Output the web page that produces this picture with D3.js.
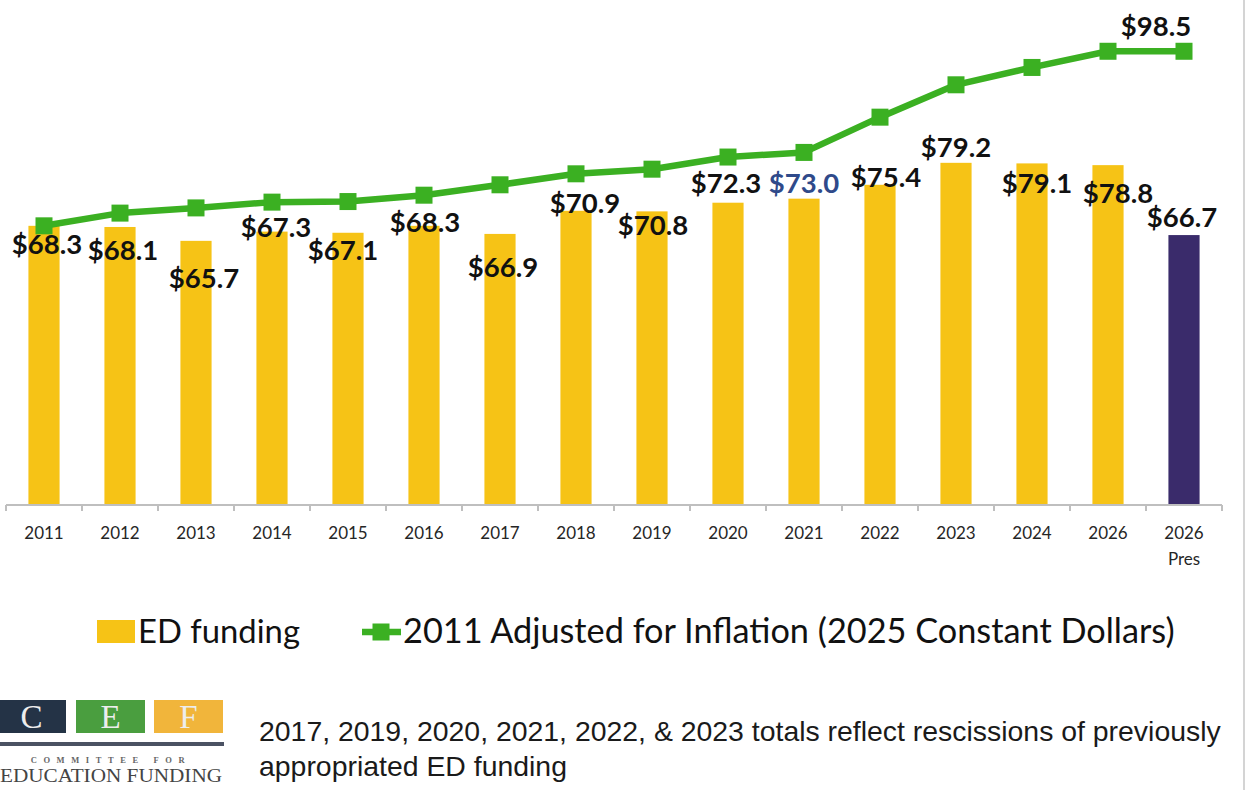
<!DOCTYPE html>
<html>
<head>
<meta charset="utf-8">
<script src="https://cdn.jsdelivr.net/npm/d3@7"></script>
<style>
  html, body { margin: 0; padding: 0; background: #ffffff; }
  svg { display: block; }
</style>
</head>
<body>
<svg id="chart" width="1248" height="790"></svg>
<script>
// ---------------- DATA ----------------
const categories = ["2011","2012","2013","2014","2015","2016","2017","2018","2019","2020","2021","2022","2023","2024","2026","2026 Pres"];
const edFunding = [68.3, 68.1, 65.7, 67.3, 67.1, 68.3, 66.9, 70.9, 70.8, 72.3, 73.0, 75.4, 79.2, 79.1, 78.8, 66.7];
const inflationAdjusted = [68.3, 70.5, 71.4, 72.4, 72.5, 73.6, 75.4, 77.3, 78.1, 80.2, 81.0, 87.1, 92.7, 95.7, 98.5, 98.5];
const seriesNames = ["ED funding", "2011 Adjusted for Inflation (2025 Constant Dollars)"];
const footnoteLines = [
  "2017, 2019, 2020, 2021, 2022, & 2023 totals reflect rescissions of previously",
  "appropriated ED funding"
];
const lineLabelText = "$98.5";

// ---------------- LAYOUT / STYLE ----------------
const W = 1248, H = 790;
const COLORS = { bar: "#F6C316", barPres: "#3A2B6B", line: "#3BB022", axis: "#BFBFBF", text: "#111111", blueLabel: "#2F4A8A" };
// label nudges relative to bar top-centre (px): [dx, dy to baseline]
const labelNudge = [[3,28],[3,33],[8,47],[4,5],[-5,27],[1,6],[3,43],[9,2],[1,24],[-2,-10],[0,-6],[6,2],[0,-6],[5,30],[10,38],[-2,-8]];

const svg = d3.select("#chart");

const x = d3.scaleBand().domain(d3.range(categories.length)).range([6, 1222]).paddingInner(0).paddingOuter(0);
const y = d3.scaleLinear().domain([20, 100]).range([505, 42.6]);
const barW = x.bandwidth() * 0.41;

// right border line
svg.append("line").attr("x1", 1244).attr("x2", 1244).attr("y1", 0).attr("y2", H)
  .attr("stroke", "#D4D4D4").attr("stroke-width", 2);

// bars
svg.append("g").selectAll("rect").data(edFunding).join("rect")
  .attr("x", (d, i) => x(i) + x.bandwidth() / 2 - barW / 2)
  .attr("width", barW)
  .attr("y", d => y(d))
  .attr("height", d => y(20) - y(d))
  .attr("fill", (d, i) => i === categories.length - 1 ? COLORS.barPres : COLORS.bar);

// x axis: labels via d3.axisBottom, ticks at band boundaries
const axisG = svg.append("g").attr("transform", `translate(0,${y(20)})`);
axisG.call(d3.axisBottom(x).tickSize(0).tickPadding(0).tickFormat(() => ""));
axisG.select(".domain").remove();
axisG.selectAll(".tick text").remove();
axisG.selectAll(".tick").each(function(d) {
  const parts = categories[d].split(" ");
  const t = d3.select(this).append("text")
    .attr("text-anchor", "middle")
    .attr("font-family", "Lato, 'Open Sans', sans-serif")
    .attr("font-size", 17)
    .attr("fill", "#262626");
  parts.forEach((p, k) => t.append("tspan").attr("x", 0).attr("y", 34 + k * 26).text(p));
});
axisG.append("line").attr("x1", x.range()[0]).attr("x2", x.range()[1]).attr("y1", 0).attr("y2", 0)
  .attr("stroke", COLORS.axis).attr("stroke-width", 2);
const boundaries = d3.range(categories.length + 1).map(i => x.range()[0] + i * x.step());
axisG.selectAll("line.tk").data(boundaries).join("line").attr("class", "tk")
  .attr("x1", d => d).attr("x2", d => d).attr("y1", 0).attr("y2", 6)
  .attr("stroke", COLORS.axis).attr("stroke-width", 2);

// green line
const lineGen = d3.line().x((d, i) => x(i) + x.bandwidth() / 2).y(d => y(d));
svg.append("path").datum(inflationAdjusted).attr("d", lineGen)
  .attr("fill", "none").attr("stroke", COLORS.line).attr("stroke-width", 6.5).attr("stroke-linejoin", "round");
const mk = 17;
svg.append("g").selectAll("rect").data(inflationAdjusted).join("rect")
  .attr("x", (d, i) => x(i) + x.bandwidth() / 2 - mk / 2)
  .attr("y", d => y(d) - mk / 2)
  .attr("width", mk).attr("height", mk)
  .attr("fill", COLORS.line);

// bar labels
svg.append("g").selectAll("text").data(edFunding).join("text")
  .attr("x", (d, i) => x(i) + x.bandwidth() / 2 + labelNudge[i][0])
  .attr("y", (d, i) => y(d) + labelNudge[i][1])
  .attr("text-anchor", "middle")
  .attr("font-family", "Lato, 'Open Sans', sans-serif")
  .attr("font-weight", 700)
  .attr("font-size", 27.5)
  .attr("fill", (d, i) => i === 10 ? COLORS.blueLabel : COLORS.text)
  .text(d => "$" + d.toFixed(1));

// line label (last point)
const lastI = inflationAdjusted.length - 1;
svg.append("text")
  .attr("x", x(lastI) + x.bandwidth() / 2 - 28)
  .attr("y", y(inflationAdjusted[lastI]) - 15)
  .attr("text-anchor", "middle")
  .attr("font-family", "Lato, 'Open Sans', sans-serif")
  .attr("font-weight", 700)
  .attr("font-size", 27.5)
  .attr("fill", COLORS.text)
  .text(lineLabelText);

// helper: fit text to width
function fit(sel, target) {
  const w = sel.node().getComputedTextLength();
  const fs = parseFloat(sel.attr("font-size"));
  sel.attr("font-size", fs * target / w);
}

// legend
const lg = svg.append("g");
lg.append("rect").attr("x", 97).attr("y", 620).attr("width", 38).attr("height", 23).attr("fill", COLORS.bar);
const t1 = lg.append("text").attr("x", 138).attr("y", 643)
  .attr("font-family", "Lato, 'Open Sans', sans-serif").attr("font-size", 30).attr("fill", COLORS.text)
  .text(seriesNames[0]);
fit(t1, 162);
lg.append("line").attr("x1", 362).attr("x2", 401).attr("y1", 632).attr("y2", 632)
  .attr("stroke", COLORS.line).attr("stroke-width", 6.5);
lg.append("rect").attr("x", 381 - 8.5).attr("y", 632 - 8.5).attr("width", 17).attr("height", 17).attr("fill", COLORS.line);
const t2 = lg.append("text").attr("x", 403).attr("y", 643)
  .attr("font-family", "Lato, 'Open Sans', sans-serif").attr("font-size", 30).attr("fill", COLORS.text)
  .text(seriesNames[1]);
fit(t2, 772);

// footnote
const f1 = svg.append("text").attr("x", 259).attr("y", 741)
  .attr("font-family", "'Liberation Sans', Arial, sans-serif").attr("font-size", 23).attr("fill", "#1a1a1a")
  .text(footnoteLines[0]);
fit(f1, 962);
svg.append("text").attr("x", 259).attr("y", 776)
  .attr("font-family", "'Liberation Sans', Arial, sans-serif").attr("font-size", f1.attr("font-size")).attr("fill", "#1a1a1a")
  .text(footnoteLines[1]);

// logo
const logo = svg.append("g");
const boxes = [["C", -3, "#243346"], ["E", 76, "#4A9E3F"], ["F", 154, "#F1B53B"]];
boxes.forEach(([ch, bx, c]) => {
  logo.append("rect").attr("x", bx).attr("y", 700).attr("width", 69).attr("height", 33).attr("fill", c);
  logo.append("text").attr("x", bx + 34.5).attr("y", 728).attr("text-anchor", "middle")
    .attr("font-family", "'Liberation Serif', 'DejaVu Serif', serif").attr("font-size", 33)
    .attr("fill", "#EDEDED").text(ch);
});
logo.append("rect").attr("x", 0).attr("y", 742).attr("width", 224).attr("height", 4).attr("fill", "#4B5263");
logo.append("text").attr("x", 111).attr("y", 763).attr("text-anchor", "middle")
  .attr("font-family", "'Liberation Serif', 'DejaVu Serif', serif").attr("font-size", 8.5)
  .attr("font-weight", 700)
  .attr("letter-spacing", 6.6).attr("fill", "#666").text("COMMITTEE FOR");
logo.append("text").attr("x", 0).attr("y", 782)
  .attr("font-family", "'Liberation Serif', 'DejaVu Serif', serif").attr("font-size", 19.5)
  .attr("textLength", 222).attr("lengthAdjust", "spacingAndGlyphs")
  .attr("fill", "#444").text("EDUCATION FUNDING");
</script>
</body>
</html>
